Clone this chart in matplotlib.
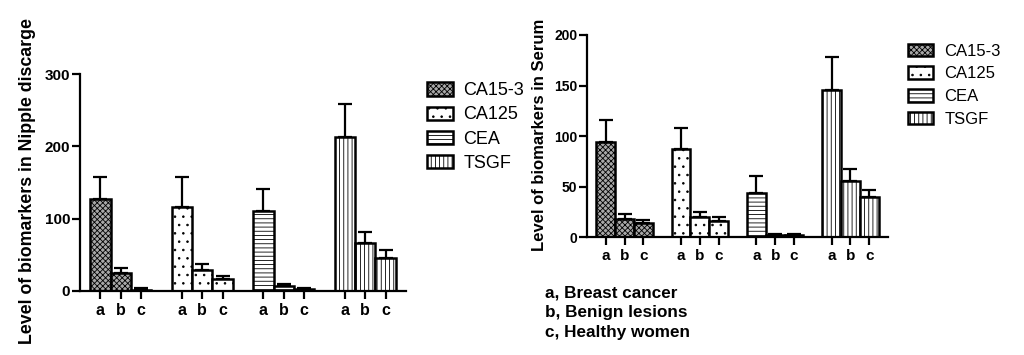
import matplotlib
matplotlib.use("Agg")
import matplotlib.pyplot as plt
import numpy as np

plt.rcParams['font.family'] = ['Liberation Sans', 'DejaVu Sans']
plt.rcParams['hatch.linewidth'] = 0.6

markers = ['CA15-3', 'CA125', 'CEA', 'TSGF']
groups = ['a', 'b', 'c']
hatches = ['xxxxxx', '..', '----', '||||']
fills = ['#a8a8a8', 'white', 'white', 'white']

# nipple discharge: means and upper error
nipple_vals = {
    'CA15-3': [127, 25, 2],
    'CA125': [116, 29, 16],
    'CEA': [110, 7, 3],
    'TSGF': [213, 67, 46],
}
nipple_err = {
    'CA15-3': [31, 7, 2],
    'CA125': [42, 8, 4.5],
    'CEA': [31, 2, 1.5],
    'TSGF': [46, 15, 10],
}

# serum: means and upper error
serum_vals = {
    'CA15-3': [94, 18, 14.5],
    'CA125': [87.5, 20.5, 16],
    'CEA': [43.5, 2, 2],
    'TSGF': [145.5, 56, 39.5],
}
serum_err = {
    'CA15-3': [22, 5, 2.5],
    'CA125': [21, 5, 4],
    'CEA': [17, 1, 1],
    'TSGF': [32.5, 12, 7.5],
}

key_lines = ['a, Breast cancer', 'b, Benign lesions', 'c, Healthy women']

fig = plt.figure(figsize=(10.24, 3.55), dpi=100)
ax1 = fig.add_axes([80/1024, 64/355, 326/1024, 217/355])
ax2 = fig.add_axes([587/1024, 117.7/355, 301/1024, 202.3/355])


def draw(ax, vals, errs, ymax, yticks, ysize, xsize):
    ticks = []
    for g, m in enumerate(markers):
        x = np.arange(3) + g * 4
        ticks.extend(x)
        ax.bar(x, vals[m], width=1, color=fills[g], edgecolor='black',
               linewidth=1.8, hatch=hatches[g], label=m, zorder=2)
        ax.errorbar(x, vals[m], yerr=[np.zeros(3), errs[m]], fmt='none',
                    ecolor='black', elinewidth=1.6, capsize=5, capthick=1.6,
                    zorder=1)
    ax.set_xlim(-1, 15)
    ax.set_ylim(0, ymax)
    ax.set_yticks(yticks)
    ax.set_xticks(ticks)
    ax.set_xticklabels(groups * 4)
    for s in ['top', 'right']:
        ax.spines[s].set_visible(False)
    for s in ['left', 'bottom']:
        ax.spines[s].set_linewidth(1.6)
    ax.tick_params(direction='out', length=5.5, width=1.6, pad=1.5)
    ax.tick_params(axis='y', labelsize=ysize)
    ax.tick_params(axis='x', labelsize=xsize, pad=3)
    for lab in ax.get_xticklabels() + ax.get_yticklabels():
        lab.set_fontweight('bold')


draw(ax1, nipple_vals, nipple_err, 300, [0, 100, 200, 300], 11, 11.5)
draw(ax2, serum_vals, serum_err, 200, [0, 50, 100, 150, 200], 10, 11)

ax1.legend(loc='upper left', bbox_to_anchor=(420/1024, 1 - 75/355),
           bbox_transform=fig.transFigure, frameon=False, fontsize=13,
           handlelength=1.4, handleheight=0.75, labelspacing=0.4,
           handletextpad=0.6, borderaxespad=0)
ax2.legend(loc='upper left', bbox_to_anchor=(901/1024, 1 - 37/355),
           bbox_transform=fig.transFigure, frameon=False, fontsize=12,
           handlelength=1.5, handleheight=0.8, labelspacing=0.45,
           handletextpad=0.7, borderaxespad=0)

fig.text(28/1024, 1 - 181/355, 'Level of biomarkers in Nipple discarge',
         rotation=90, ha='center', va='center', fontsize=12.8, fontweight='bold')
fig.text(539/1024, 1 - 135/355, 'Level of biomarkers in Serum',
         rotation=90, ha='center', va='center', fontsize=12, fontweight='bold')

for i, line in enumerate(key_lines):
    fig.text(545/1024, 1 - (293 + 20 * i)/355, line, ha='left', va='center',
             fontsize=12.3, fontweight='bold')

fig.savefig('out.png', dpi=100)
